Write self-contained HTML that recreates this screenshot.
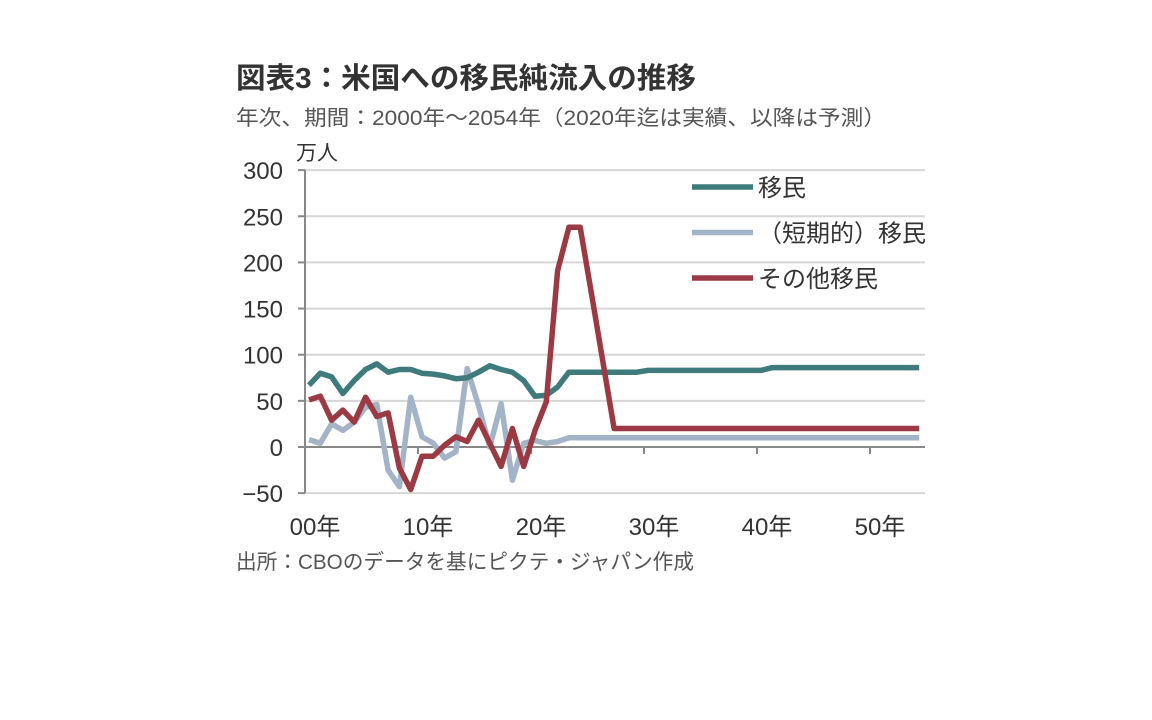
<!DOCTYPE html>
<html><head><meta charset="utf-8"><style>
body{margin:0;background:#fff;}
svg{display:block;font-family:"Liberation Sans","Noto Sans CJK JP",sans-serif;}
</style></head><body>
<svg width="1152" height="720" viewBox="0 0 1152 720">
<text x="236" y="88" font-size="29" fill="#333" font-weight="bold" textLength="460" lengthAdjust="spacingAndGlyphs">図表3：米国への移民純流入の推移</text>
<text x="236" y="125" font-size="21" fill="#555" textLength="650" lengthAdjust="spacingAndGlyphs">年次、期間：2000年～2054年（2020年迄は実績、以降は予測）</text>
<text x="296" y="160" font-size="21" fill="#333">万人</text>
<g id="grid"></g>
<g id="axes"></g>
<g id="lines"></g>
<g id="legend"></g>
<text x="236" y="569" font-size="21" fill="#555" textLength="458" lengthAdjust="spacingAndGlyphs">出所：CBOのデータを基にピクテ・ジャパン作成</text>
</svg>
<script>
const years = [];
for (let y = 2000; y <= 2054; y++) years.push(y);
const immig = [67,80,76,58,72,84,90,81,84,84,80,79,77,74,75,81,88,84,81,72,55,56,65,81,81,81,81,81,81,81,83,83,83,83,83,83,83,83,83,83,83,86,86,86,86,86,86,86,86,86,86,86,86,86,86];
const shortTerm = [8,4,25,18,27,43,46,-25,-43,54,11,4,-12,-5,85,45,0,47,-36,4,7,4,6,10,10,10,10,10,10,10,10,10,10,10,10,10,10,10,10,10,10,10,10,10,10,10,10,10,10,10,10,10,10,10,10];
const other = [51,55,29,40,27,54,33,37,-23,-46,-10,-10,2,11,6,29,4,-21,20,-21,18,49,191,238,238,166,93,20,20,20,20,20,20,20,20,20,20,20,20,20,20,20,20,20,20,20,20,20,20,20,20,20,20,20,20];
const yTicks = [300,250,200,150,100,50,0,-50];
const yTickLabels = ["300","250","200","150","100","50","0","−50"];
const xLabelYears = [2000,2010,2020,2030,2040,2050];
const xLabels = ["00年","10年","20年","30年","40年","50年"];
const seriesNames = ["移民","（短期的）移民","その他移民"];

const NS = "http://www.w3.org/2000/svg";
const xs = y => 309 + (y - 2000) * 11.3;
const ys = v => 447 - v * 0.9229;
function mk(tag, attrs, parent, text){
  const e = document.createElementNS(NS, tag);
  for (const k in attrs) e.setAttribute(k, attrs[k]);
  if (text !== undefined) e.textContent = text;
  document.getElementById(parent).appendChild(e);
  return e;
}
yTicks.forEach((t,i) => {
  if (t !== 0) {
    const g = mk('line',{x1:305,x2:925,y1:ys(t),y2:ys(t),stroke:'#d6d6d6','stroke-width':2},'grid');
    
    
  }
  const tk = mk('line',{x1:298,x2:305,y1:ys(t),y2:ys(t),stroke:'#888','stroke-width':2},'axes');
  
  
  const lb = mk('text',{x:283,y:ys(t)+9,'font-size':24,fill:'#333','text-anchor':'end'},'axes',yTickLabels[i]);
  
  
});
const ya = mk('line',{x1:305,x2:305,y1:ys(300),y2:ys(-50),stroke:'#888','stroke-width':2},'axes');


const xa = mk('line',{x1:305,x2:925,y1:ys(0),y2:ys(0),stroke:'#888','stroke-width':2},'axes');


xLabelYears.forEach((y,i) => {
  if (i > 0) {
    const tk = mk('line',{x1:xs(y)-4,x2:xs(y)-4,y1:ys(0),y2:ys(0)+7,stroke:'#888','stroke-width':2},'axes');
    
    
  }
  const lb = mk('text',{x:xs(y)+6,y:535,'font-size':24,fill:'#333','text-anchor':'middle'},'axes',xLabels[i]);
  
  
});
const series = [[shortTerm,'#a3b3c8','short-term-immigration-line'],[immig,'#3f7a7c','immigration-line'],[other,'#9b3a42','other-immigration-line']];
series.forEach(s => {
  const d = s[0].map((v,i) => (i ? 'L' : 'M') + xs(years[i]).toFixed(1) + ',' + ys(v).toFixed(1)).join(' ');
  const p = mk('path',{d:d,fill:'none',stroke:s[1],'stroke-width':5.5,'stroke-linejoin':'round'},'lines');
  
  
});
const legCols = ['#3f7a7c','#a3b3c8','#9b3a42'];
seriesNames.forEach((n,i) => {
  const y = 187 + i * 45.5;
  const l = mk('line',{x1:692,x2:753,y1:y,y2:y,stroke:legCols[i],'stroke-width':5.5},'legend');
  
  
  const t = mk('text',{x:758,y:y+9,'font-size':24,fill:'#333'},'legend',n);
  
  
});
</script>
</body></html>
